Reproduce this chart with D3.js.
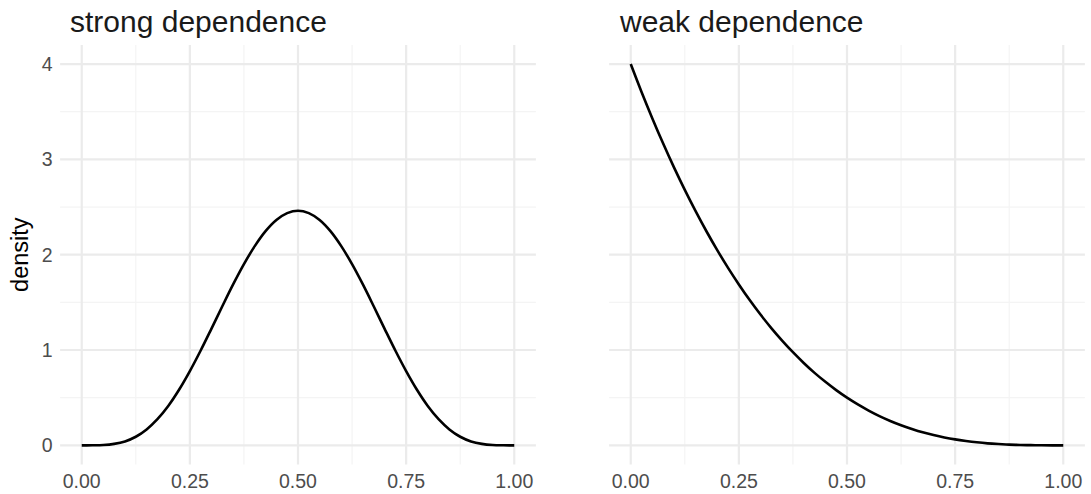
<!DOCTYPE html>
<html>
<head>
<meta charset="utf-8">
<script src="https://cdn.jsdelivr.net/npm/d3@7"></script>
<style>
  html, body { margin: 0; padding: 0; background: #fff; }
  svg { display: block; font-family: "Liberation Sans", Arial, sans-serif; }
</style>
</head>
<body>
<svg id="chart" width="1091" height="494"></svg>
<script>
// Panel titles
const panelTitles = ["strong dependence", "weak dependence"];

// Shared x grid of the density curves
const xValues = [0, 0.025, 0.05, 0.075, 0.1, 0.125, 0.15, 0.175, 0.2, 0.225, 0.25,
  0.275, 0.3, 0.325, 0.35, 0.375, 0.4, 0.425, 0.45, 0.475, 0.5,
  0.525, 0.55, 0.575, 0.6, 0.625, 0.65, 0.675, 0.7, 0.725, 0.75,
  0.775, 0.8, 0.825, 0.85, 0.875, 0.9, 0.925, 0.95, 0.975, 1];

// Density values, strong dependence (bell shaped, peak at 0.5)
const strongDensity = [0, 0.0002, 0.003, 0.015, 0.041, 0.090, 0.167, 0.274, 0.413, 0.583, 0.779,
  0.995, 1.225, 1.459, 1.688, 1.901, 2.090, 2.247, 2.364, 2.436, 2.461,
  2.436, 2.364, 2.247, 2.090, 1.901, 1.688, 1.459, 1.225, 0.995, 0.779,
  0.583, 0.413, 0.274, 0.167, 0.090, 0.041, 0.015, 0.003, 0.0002, 0];

// Density values, weak dependence (decaying from 4 at zero)
const weakDensity = [4, 3.707, 3.430, 3.166, 2.916, 2.680, 2.457, 2.246, 2.048, 1.862, 1.688,
  1.524, 1.372, 1.230, 1.099, 0.977, 0.864, 0.760, 0.666, 0.579, 0.5,
  0.429, 0.365, 0.307, 0.256, 0.211, 0.172, 0.137, 0.108, 0.083, 0.0625,
  0.046, 0.032, 0.021, 0.0135, 0.0078, 0.004, 0.0017, 0.0005, 0.0001, 0];

// Tick values and labels
const xTicks = [0, 0.25, 0.5, 0.75, 1];
const xTickLabels = ["0.00", "0.25", "0.50", "0.75", "1.00"];
const xMinor = [0.125, 0.375, 0.625, 0.875];
const yTicks = [0, 1, 2, 3, 4];
const yMinor = [0.5, 1.5, 2.5, 3.5];
const yAxisTitle = "density";

const series = [strongDensity, weakDensity];

const svg = d3.select("#chart");

const panelTop = 45, panelBottom = 464.4;
const panelLefts = [60.1, 609.1];
const titleLefts = [70, 620];
const panelWidth = 475.8;

const y = d3.scaleLinear().domain([-0.2, 4.2]).range([panelBottom, panelTop]);

panelTitles.forEach((title, i) => {
  const left = panelLefts[i];
  const x = d3.scaleLinear().domain([-0.05, 1.05]).range([left, left + panelWidth]);
  const g = svg.append("g");

  // minor grid
  g.selectAll(".xminor").data(xMinor).enter().append("line")
    .attr("x1", d => x(d)).attr("x2", d => x(d))
    .attr("y1", panelTop).attr("y2", panelBottom)
    .attr("stroke", "#f4f4f4").attr("stroke-width", 1.2);
  g.selectAll(".yminor").data(yMinor).enter().append("line")
    .attr("x1", left).attr("x2", left + panelWidth)
    .attr("y1", d => y(d)).attr("y2", d => y(d))
    .attr("stroke", "#f4f4f4").attr("stroke-width", 1.2);
  // major grid
  g.selectAll(".xmajor").data(xTicks).enter().append("line")
    .attr("x1", d => x(d)).attr("x2", d => x(d))
    .attr("y1", panelTop).attr("y2", panelBottom)
    .attr("stroke", "#ebebeb").attr("stroke-width", 2.2);
  g.selectAll(".ymajor").data(yTicks).enter().append("line")
    .attr("x1", left).attr("x2", left + panelWidth)
    .attr("y1", d => y(d)).attr("y2", d => y(d))
    .attr("stroke", "#ebebeb").attr("stroke-width", 2.2);

  // x tick labels
  g.selectAll(".xlab").data(xTicks).enter().append("text")
    .attr("x", d => x(d)).attr("y", 488)
    .attr("text-anchor", "middle")
    .attr("font-size", 19.5).attr("fill", "#4d4d4d")
    .text((d, k) => xTickLabels[k]);

  // y tick labels on the first panel only
  if (i === 0) {
    g.selectAll(".ylab").data(yTicks).enter().append("text")
      .attr("x", 52.7).attr("y", d => y(d))
      .attr("dy", "0.36em")
      .attr("text-anchor", "end")
      .attr("font-size", 19.5).attr("fill", "#4d4d4d")
      .text(d => d);
  }

  // density curve
  const line = d3.line()
    .x((d, k) => x(xValues[k]))
    .y(d => y(d))
    .curve(d3.curveCatmullRom);
  g.append("path")
    .datum(series[i])
    .attr("d", line)
    .attr("fill", "none")
    .attr("stroke", "#000")
    .attr("stroke-width", 2.6);

  // panel title
  g.append("text")
    .attr("x", titleLefts[i])
    .attr("y", 32)
    .attr("font-size", 30)
    .attr("fill", "#1a1a1a")
    .text(title);
});

// y axis title
svg.append("text")
  .attr("transform", `translate(28, ${(panelTop + panelBottom) / 2}) rotate(-90)`)
  .attr("text-anchor", "middle")
  .attr("font-size", 23.5)
  .attr("fill", "#000")
  .text(yAxisTitle);
</script>
</body>
</html>
